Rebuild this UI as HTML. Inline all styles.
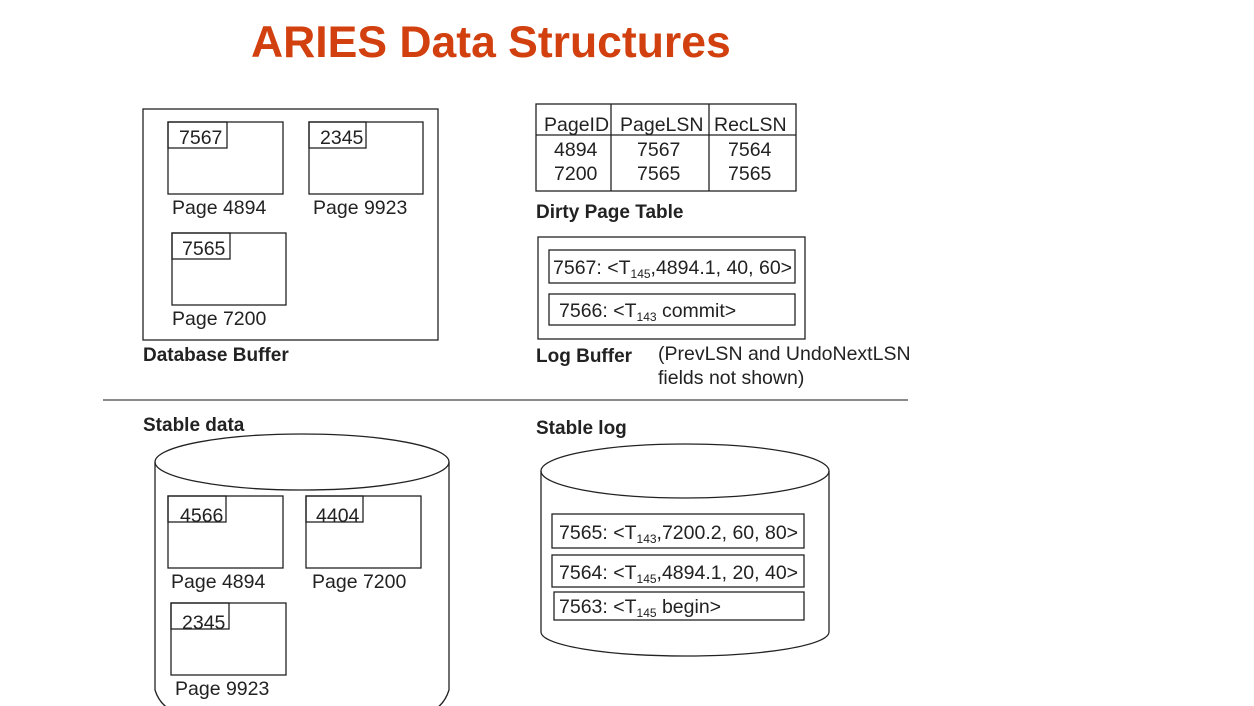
<!DOCTYPE html>
<html><head><meta charset="utf-8"><style>
html,body{margin:0;padding:0;background:#fff;}
svg{display:block;font-family:"Liberation Sans",sans-serif;}
</style></head><body>
<svg width="1254" height="706" viewBox="0 0 1254 706" xmlns="http://www.w3.org/2000/svg">
<text x="251" y="57" font-size="44.5" font-weight="bold" fill="#d2400f">ARIES Data Structures</text>
<g fill="none" stroke="#222" stroke-width="1.3">
<rect x="143" y="109" width="295" height="231"/>
<rect x="168" y="122" width="115" height="72"/><rect x="168" y="122" width="59" height="26"/>
<rect x="309" y="122" width="114" height="72"/><rect x="309" y="122" width="57" height="26"/>
<rect x="172" y="233" width="114" height="72"/><rect x="172" y="233" width="58" height="26"/>
<rect x="536" y="104" width="260" height="87"/>
<line x1="536" y1="135" x2="796" y2="135"/>
<line x1="611" y1="104" x2="611" y2="191"/><line x1="709" y1="104" x2="709" y2="191"/>
<rect x="538" y="237" width="267" height="102"/>
<rect x="549" y="250" width="246" height="33"/>
<rect x="549" y="294" width="246" height="31"/>
<line x1="103" y1="400" x2="908" y2="400" stroke="#444"/>
<ellipse cx="302" cy="462" rx="147" ry="28"/>
<path d="M155 462 L155 690 Q160 706 175 712 M449 462 L449 690 Q444 706 430 712"/>
<rect x="168" y="496" width="115" height="72"/><rect x="168" y="496" width="58" height="26"/>
<rect x="306" y="496" width="115" height="72"/><rect x="306" y="496" width="57" height="26"/>
<rect x="171" y="603" width="115" height="72"/><rect x="171" y="603" width="58" height="26"/>
<ellipse cx="685" cy="471" rx="144" ry="27"/>
<path d="M541 471 L541 632 A144 24 0 0 0 829 632 L829 471"/>
<rect x="552" y="514" width="252" height="34"/>
<rect x="552" y="555" width="252" height="32"/>
<rect x="554" y="592" width="250" height="28"/>
</g>
<g font-size="19.5" fill="#222">
<text x="179" y="144">7567</text><text x="320" y="144">2345</text><text x="182" y="255">7565</text>
<text x="172" y="214">Page 4894</text><text x="313" y="214">Page 9923</text><text x="172" y="325">Page 7200</text>
<text x="544" y="131">PageID</text><text x="620" y="131">PageLSN</text><text x="714" y="131">RecLSN</text>
<text x="554" y="156">4894</text><text x="637" y="156">7567</text><text x="728" y="156">7564</text>
<text x="554" y="180">7200</text><text x="637" y="180">7565</text><text x="728" y="180">7565</text>
<text x="553" y="274">7567: &lt;T<tspan font-size="12" dy="4">145</tspan><tspan dy="-4">,4894.1, 40, 60&gt;</tspan></text>
<text x="559" y="317">7566: &lt;T<tspan font-size="12" dy="4">143</tspan><tspan dy="-4"> commit&gt;</tspan></text>
<text x="658" y="360">(PrevLSN and UndoNextLSN</text>
<text x="658" y="384">fields not shown)</text>
<text x="180" y="522">4566</text><text x="316" y="522">4404</text><text x="182" y="629">2345</text>
<text x="171" y="588">Page 4894</text><text x="312" y="588">Page 7200</text><text x="175" y="695">Page 9923</text>
<text x="559" y="539">7565: &lt;T<tspan font-size="12" dy="4">143</tspan><tspan dy="-4">,7200.2, 60, 80&gt;</tspan></text>
<text x="559" y="579">7564: &lt;T<tspan font-size="12" dy="4">145</tspan><tspan dy="-4">,4894.1, 20, 40&gt;</tspan></text>
<text x="559" y="613">7563: &lt;T<tspan font-size="12" dy="4">145</tspan><tspan dy="-4"> begin&gt;</tspan></text>
</g>
<g font-size="19" font-weight="bold" fill="#222">
<text x="143" y="361">Database Buffer</text>
<text x="536" y="218">Dirty Page Table</text>
<text x="536" y="362">Log Buffer</text>
<text x="143" y="431">Stable data</text>
<text x="536" y="434">Stable log</text>
</g>
</svg>
</body></html>
